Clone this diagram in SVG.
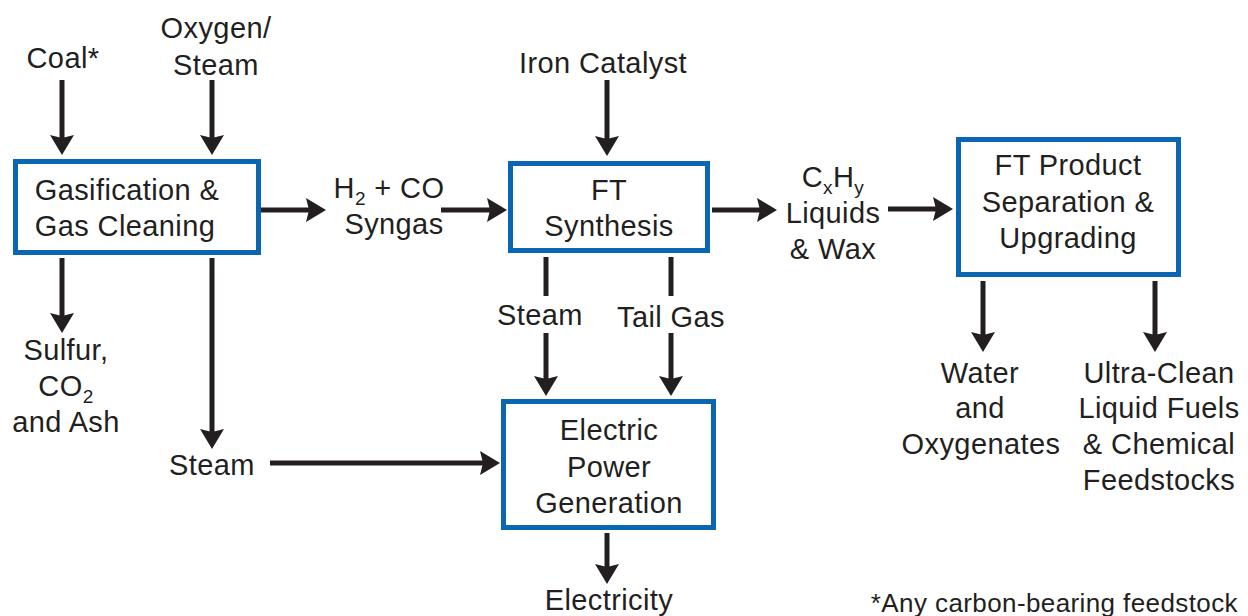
<svg xmlns="http://www.w3.org/2000/svg" width="1248" height="616" viewBox="0 0 1248 616">
<defs>
<style>
.box{fill:#fff;stroke:#0a66b1;stroke-width:5}
.t{font-family:"Liberation Sans",Arial,sans-serif;font-size:29px;letter-spacing:0.4px;fill:#231f20;text-anchor:middle}
.sub{font-size:19px}
.fn{font-family:"Liberation Sans",Arial,sans-serif;font-size:26px;letter-spacing:0.4px;fill:#231f20;text-anchor:end}
.c{stroke:#231f20;stroke-width:5;fill:none}
</style>
<marker id="ah" viewBox="0 0 20 24" refX="10" refY="12" markerWidth="20" markerHeight="24" markerUnits="userSpaceOnUse" orient="auto">
<path d="M0,0 L20,12 L0,24 L3,12 z" fill="#231f20"/>
</marker>
</defs>
<rect width="1248" height="616" fill="#fff"/>
<g id="connectors">
<line class="c" x1="62" y1="80" x2="62" y2="145" marker-end="url(#ah)"/>
<line class="c" x1="212" y1="80" x2="212" y2="145" marker-end="url(#ah)"/>
<line class="c" x1="261" y1="210" x2="316" y2="210" marker-end="url(#ah)"/>
<line class="c" x1="441" y1="210" x2="497" y2="210" marker-end="url(#ah)"/>
<line class="c" x1="607" y1="80" x2="607" y2="146" marker-end="url(#ah)"/>
<line class="c" x1="712" y1="210" x2="767" y2="210" marker-end="url(#ah)"/>
<line class="c" x1="888" y1="209" x2="943" y2="209" marker-end="url(#ah)"/>
<line class="c" x1="62" y1="258" x2="62" y2="323" marker-end="url(#ah)"/>
<line class="c" x1="212" y1="258" x2="212" y2="439" marker-end="url(#ah)"/>
<line class="c" x1="270" y1="463" x2="490" y2="463" marker-end="url(#ah)"/>
<line class="c" x1="546" y1="257" x2="546" y2="296"/>
<line class="c" x1="546" y1="333" x2="546" y2="386" marker-end="url(#ah)"/>
<line class="c" x1="671" y1="257" x2="671" y2="296"/>
<line class="c" x1="671" y1="333" x2="671" y2="386" marker-end="url(#ah)"/>
<line class="c" x1="607" y1="533" x2="607" y2="574" marker-end="url(#ah)"/>
<line class="c" x1="983" y1="281" x2="983" y2="342" marker-end="url(#ah)"/>
<line class="c" x1="1155" y1="281" x2="1155" y2="342" marker-end="url(#ah)"/>
</g>
<g id="gasification">
<rect class="box" x="15.5" y="161.5" width="243" height="91"/>
<text class="t" x="127" y="200">Gasification &amp;</text>
<text class="t" x="125" y="236">Gas Cleaning</text>
</g>
<g id="ft-synthesis">
<rect class="box" x="510.5" y="163.5" width="197" height="87"/>
<text class="t" x="609" y="200">FT</text>
<text class="t" x="609" y="236">Synthesis</text>
</g>
<g id="ft-product">
<rect class="box" x="958.5" y="139.5" width="220" height="135"/>
<text class="t" x="1068" y="175">FT Product</text>
<text class="t" x="1068" y="212">Separation &amp;</text>
<text class="t" x="1068" y="248">Upgrading</text>
</g>
<g id="electric-power">
<rect class="box" x="503.5" y="401.5" width="210" height="126"/>
<text class="t" x="609" y="440">Electric</text>
<text class="t" x="609" y="477">Power</text>
<text class="t" x="609" y="513">Generation</text>
</g>
<g id="coal"><text class="t" x="63" y="68">Coal*</text></g>
<g id="oxygen-steam">
<text class="t" x="216" y="38">Oxygen/</text>
<text class="t" x="216" y="75">Steam</text>
</g>
<g id="syngas">
<text class="t" x="389" y="198">H<tspan class="sub" dy="7">2</tspan><tspan dy="-7"> + CO</tspan></text>
<text class="t" x="394" y="234">Syngas</text>
</g>
<g id="iron-catalyst"><text class="t" x="603" y="73">Iron Catalyst</text></g>
<g id="liquids-wax">
<text class="t" x="833" y="187">C<tspan class="sub" dy="7">x</tspan><tspan dy="-7">H</tspan><tspan class="sub" dy="7">y</tspan></text>
<text class="t" x="833" y="223">Liquids</text>
<text class="t" x="833" y="259">&amp; Wax</text>
</g>
<g id="sulfur">
<text class="t" x="66" y="360">Sulfur,</text>
<text class="t" x="66" y="396">CO<tspan class="sub" dy="7">2</tspan></text>
<text class="t" x="66" y="432">and Ash</text>
</g>
<g id="steam-left"><text class="t" x="212" y="475">Steam</text></g>
<g id="steam-ft"><text class="t" x="540" y="325">Steam</text></g>
<g id="tail-gas"><text class="t" x="671" y="327">Tail Gas</text></g>
<g id="electricity"><text class="t" x="609" y="610">Electricity</text></g>
<g id="water">
<text class="t" x="980" y="383">Water</text>
<text class="t" x="980" y="418">and</text>
<text class="t" x="981" y="454">Oxygenates</text>
</g>
<g id="fuels">
<text class="t" x="1159" y="383">Ultra-Clean</text>
<text class="t" x="1159" y="418">Liquid Fuels</text>
<text class="t" x="1159" y="454">&amp; Chemical</text>
<text class="t" x="1159" y="490">Feedstocks</text>
</g>
<g id="footnote"><text class="fn" x="1238" y="612">*Any carbon-bearing feedstock</text></g>
</svg>
